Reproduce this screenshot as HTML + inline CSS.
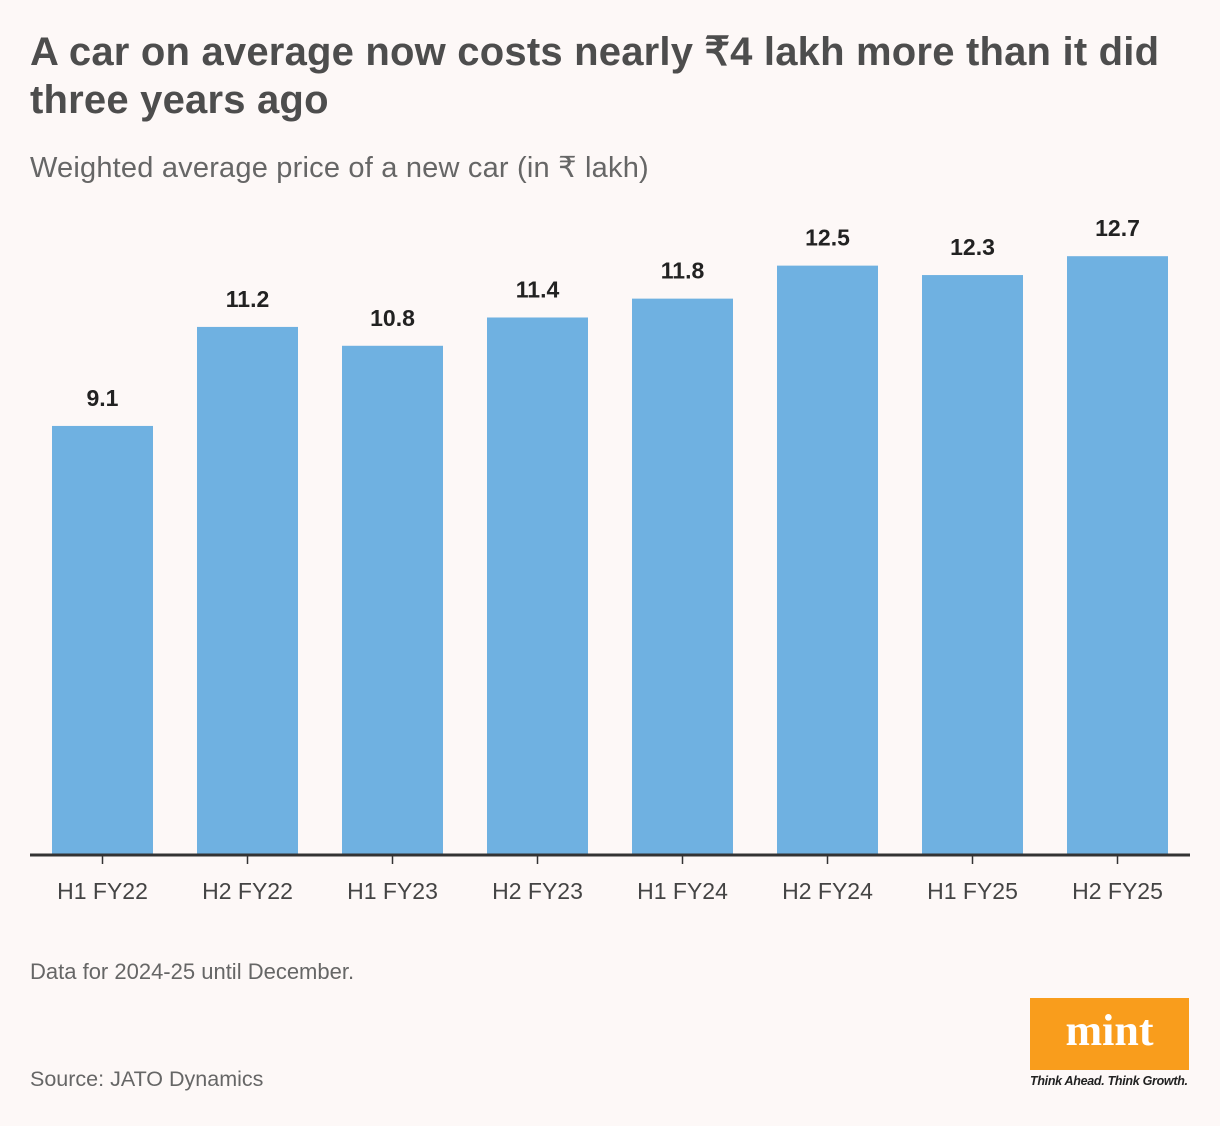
<!DOCTYPE html>
<html><head><meta charset="utf-8">
<style>
body{margin:0;width:1220px;height:1126px;background:#fdf8f7;font-family:"Liberation Sans",sans-serif;position:relative;overflow:hidden}
.t{position:absolute;left:30px;top:28px;font-size:40px;font-weight:bold;color:#4d4d4d;line-height:48px;letter-spacing:0.2px;margin:0}
.s{position:absolute;left:30px;top:150px;font-size:29px;color:#666;letter-spacing:0.2px}
.n{position:absolute;left:30px;color:#666}
</style></head><body>
<h1 class="t">A car on average now costs nearly ₹4 lakh more than it did<br>three years ago</h1>
<div class="s">Weighted average price of a new car (in ₹ lakh)</div>
<svg id="c" width="1220" height="1126" style="position:absolute;left:0;top:0"></svg>
<div class="n" style="top:959px;font-size:22px">Data for 2024-25 until December.</div>
<div class="n" style="top:1067px;font-size:21.5px">Source: JATO Dynamics</div>
<div style="position:absolute;left:1030px;top:998px;width:159px;height:72px;background:#f99d1c;color:#fff;font-family:'Liberation Serif',serif;font-weight:bold;font-size:44px;text-align:center;line-height:66px">mint</div>
<div style="position:absolute;left:1030px;top:1074px;font-size:12.5px;font-style:italic;font-weight:bold;color:#222;letter-spacing:-0.3px">Think Ahead. Think Growth.</div>
<script>
const categories=["H1 FY22","H2 FY22","H1 FY23","H2 FY23","H1 FY24","H2 FY24","H1 FY25","H2 FY25"];
const values=[9.1,11.2,10.8,11.4,11.8,12.5,12.3,12.7];
const labels=["9.1","11.2","10.8","11.4","11.8","12.5","12.3","12.7"];
const svg=document.getElementById('c');const NS='http://www.w3.org/2000/svg';
const y=v=>855-v*47.15;const x=i=>102.5+i*145;const bw=101;
function mk(t,a){const e=document.createElementNS(NS,t);for(const k in a)e.setAttribute(k,a[k]);svg.appendChild(e);return e;}
values.forEach((v,i)=>{
 const r=mk('rect',{x:x(i)-bw/2,y:y(v),width:bw,height:855-y(v),fill:'#6fb1e1'});
 
 
 const t=mk('text',{x:x(i),y:y(v)-20,'text-anchor':'middle','font-size':'23','font-weight':'bold',fill:'#222'});
 t.textContent=labels[i];
 
 
 const tk=mk('line',{x1:x(i),x2:x(i),y1:855,y2:864,stroke:'#333','stroke-width':1.5});
 
 
 const l=mk('text',{x:x(i),y:899,'text-anchor':'middle','font-size':'23',fill:'#444'});
 l.textContent=categories[i];
 
 
});
const ax=mk('line',{x1:30,x2:1190,y1:855,y2:855,stroke:'#333','stroke-width':3});


</script>
</body></html>
